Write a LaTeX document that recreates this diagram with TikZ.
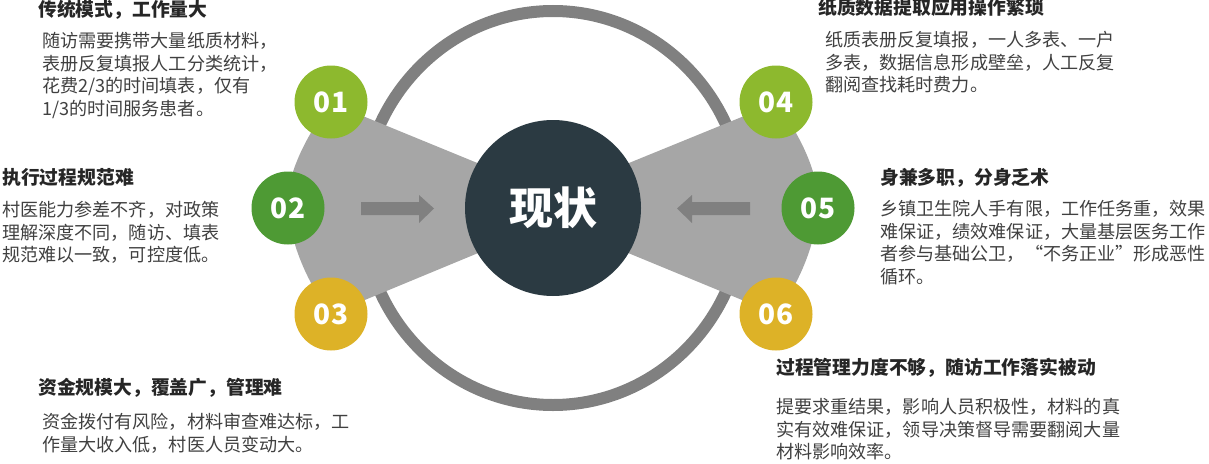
\documentclass[tikz,border=0pt]{standalone}
\usepackage{fontspec}
\setmainfont{Noto Sans CJK SC}
\begin{document}
\begin{tikzpicture}[x=1pt,y=-1pt,
  num/.style={circle,minimum size=73pt,inner sep=0,text=white,font=\fontsize{28}{28}\selectfont\bfseries},
  ttl/.style={anchor=north west,inner sep=0,text=black!85,font=\fontsize{18.8}{22}\selectfont\bfseries},
  bdy/.style={anchor=north west,inner sep=0,align=left,text=black!75,font=\fontsize{18.1}{22.6}\selectfont},
  arr/.style={fill=black!50,draw=none}]
\useasboundingbox (0,0) rectangle (1209,463);
\definecolor{lg}{HTML}{8DB92E}\definecolor{dg}{HTML}{4E9A34}\definecolor{yl}{HTML}{DDB227}
% ring
\draw[black!50,line width=12pt] (553,208) ellipse (191 and 197);
% wedges
\fill[black!35] (553,194) -- (331,103) .. controls (295,150) and (285,190) .. (288,208) .. controls (290,240) and (305,280) .. (331,314) -- (553,222) -- cycle;
\fill[black!35] (553,194) -- (776,103) .. controls (812,150) and (820,190) .. (818,208) .. controls (816,240) and (802,280) .. (776,314) -- (553,222) -- cycle;
% center
\node[circle,fill={rgb,255:red,43;green,58;blue,66},minimum size=176pt,text=white,font=\fontsize{44}{44}\selectfont\bfseries] (c) at (553,208) {现状};
% arrows
\fill[arr] (361,202) -- (419,202) -- (419,195) -- (434,208.5) -- (419,223) -- (419,215) -- (361,215) -- cycle;
\fill[arr] (750,202) -- (692,202) -- (692,195) -- (677,208.5) -- (692,223) -- (692,215) -- (750,215) -- cycle;
% numbers
\node[num,fill=lg] (n1) at (331,102) {01};
\node[num,fill=dg] (n2) at (288,208) {02};
\node[num,fill=yl] (n3) at (331,314) {03};
\node[num,fill=lg] (n4) at (776,102) {04};
\node[num,fill=dg] (n5) at (818,208) {05};
\node[num,fill=yl] (n6) at (776,314) {06};
% texts
\node[ttl] (t1) at (38,0) {传统模式，工作量大};
\node[bdy] (b1) at (42,32) {随访需要携带大量纸质材料，\\表册反复填报人工分类统计，\\花费2/3的时间填表，仅有\\1/3的时间服务患者。};
\node[ttl] (t2) at (2,168) {执行过程规范难};
\node[bdy] (b2) at (2,201) {村医能力参差不齐，对政策\\理解深度不同，随访、填表\\规范难以一致，可控度低。};
\node[ttl] (t3) at (38,378) {资金规模大，覆盖广，管理难};
\node[bdy] (b3) at (42,413) {资金拨付有风险，材料审查难达标，工\\作量大收入低，村医人员变动大。};
\node[ttl] (t4) at (818,-2) {纸质数据提取应用操作繁琐};
\node[bdy] (b4) at (825,31) {纸质表册反复填报，一人多表、一户\\多表，数据信息形成壁垒，人工反复\\翻阅查找耗时费力。};
\node[ttl] (t5) at (880,168) {身兼多职，分身乏术};
\node[bdy] (b5) at (880,200) {乡镇卫生院人手有限，工作任务重，效果\\难保证，绩效难保证，大量基层医务工作\\者参与基础公卫，“不务正业”形成恶性\\循环。};
\node[ttl] (t6) at (776,358) {过程管理力度不够，随访工作落实被动};
\node[bdy] (b6) at (776,398) {提要求重结果，影响人员积极性，材料的真\\实有效难保证，领导决策督导需要翻阅大量\\材料影响效率。};
\end{tikzpicture}
\end{document}
